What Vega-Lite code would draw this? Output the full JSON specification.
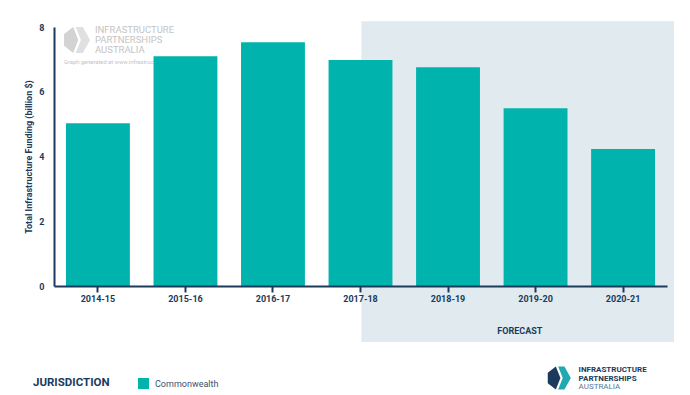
{
  "$schema": "https://vega.github.io/schema/vega-lite/v6.json",
  "width": 613,
  "height": 259,
  "autosize": {"type": "none"},
  "padding": {"left": 54, "top": 27, "right": 23, "bottom": 109},
  "background": "white",
  "config": {"view": {"stroke": null}, "font": "Roboto"},
  "datasets": {
    "bars": [
      {"year": "2014-15", "value": 5.03, "jurisdiction": "Commonwealth"},
      {"year": "2015-16", "value": 7.10, "jurisdiction": "Commonwealth"},
      {"year": "2016-17", "value": 7.53, "jurisdiction": "Commonwealth"},
      {"year": "2017-18", "value": 6.98, "jurisdiction": "Commonwealth"},
      {"year": "2018-19", "value": 6.76, "jurisdiction": "Commonwealth"},
      {"year": "2019-20", "value": 5.49, "jurisdiction": "Commonwealth"},
      {"year": "2020-21", "value": 4.23, "jurisdiction": "Commonwealth"}
    ],
    "forecast": [{"x0": 3.51, "x1": 7.08, "y0": -1.73, "y1": 8.18}],
    "watermark": [
      {"x": 0.468, "y": 7.90, "t": "INFRASTRUCTURE"},
      {"x": 0.468, "y": 7.60, "t": "PARTNERSHIPS"},
      {"x": 0.468, "y": 7.30, "t": "AUSTRALIA"}
    ],
    "watermark2": [
      {"x": 0.114, "y": 6.92, "t": "Graph generated at www.infrastructurepartnerships.com.au"}
    ],
    "forecastLabel": [{"x": 5.32, "y": -1.39, "t": "FORECAST"}],
    "logoBold": [
      {"x": 5.99, "y": -2.59, "t": "INFRASTRUCTURE"},
      {"x": 5.99, "y": -2.86, "t": "PARTNERSHIPS"}
    ],
    "logoLight": [{"x": 5.99, "y": -3.13, "t": "AUSTRALIA"}],
    "icons": [
      {"x": 0.263, "y": 7.60, "part": "wl", "c": "#d3d3d3", "sz": 676},
      {"x": 0.263, "y": 7.60, "part": "wr", "c": "#e0e0e0", "sz": 676},
      {"x": 5.77, "y": -2.84, "part": "bl", "c": "#1b3a5c", "sz": 530},
      {"x": 5.77, "y": -2.84, "part": "br", "c": "#22a8b0", "sz": 530}
    ]
  },
  "layer": [
    {
      "data": {"name": "forecast"},
      "mark": {"type": "rect", "color": "#e0eaef"},
      "encoding": {
        "x": {"field": "x0", "type": "quantitative", "scale": {"domain": [0, 7], "nice": false, "zero": false}, "axis": null},
        "x2": {"field": "x1"},
        "y": {"field": "y0", "type": "quantitative", "scale": {"domain": [0, 8], "nice": false, "zero": false}, "axis": null},
        "y2": {"field": "y1"}
      }
    },
    {
      "data": {"name": "watermark"},
      "mark": {"type": "text", "align": "left", "baseline": "middle", "color": "#c4c4c4", "font": "Roboto", "fontSize": 9.5},
      "encoding": {
        "x": {"field": "x", "type": "quantitative", "scale": {"domain": [0, 7], "nice": false, "zero": false}, "axis": null},
        "y": {"field": "y", "type": "quantitative", "scale": {"domain": [0, 8], "nice": false, "zero": false}, "axis": null},
        "text": {"field": "t"}
      }
    },
    {
      "data": {"name": "watermark2"},
      "mark": {"type": "text", "align": "left", "baseline": "middle", "color": "#c4c4c4", "font": "Roboto", "fontSize": 5.8},
      "encoding": {
        "x": {"field": "x", "type": "quantitative", "scale": {"domain": [0, 7], "nice": false, "zero": false}, "axis": null},
        "y": {"field": "y", "type": "quantitative", "scale": {"domain": [0, 8], "nice": false, "zero": false}, "axis": null},
        "text": {"field": "t"}
      }
    },
    {
      "data": {"name": "icons"},
      "mark": {"type": "point", "filled": true, "opacity": 1, "strokeWidth": 0},
      "encoding": {
        "x": {"field": "x", "type": "quantitative", "scale": {"domain": [0, 7], "nice": false, "zero": false}, "axis": null},
        "y": {"field": "y", "type": "quantitative", "scale": {"domain": [0, 8], "nice": false, "zero": false}, "axis": null},
        "shape": {"field": "part", "type": "nominal", "scale": {"domain": ["wl", "wr", "bl", "br"], "range": ["M-1,-0.45L-0.3,-1L0.1,0L-0.3,1L-1,0.45Z", "M-0.1,-1L0.45,-1L1,0L0.45,1L-0.1,1L0.3,0Z", "M-1,-0.45L-0.3,-1L0.1,0L-0.3,1L-1,0.45Z", "M-0.1,-1L0.45,-1L1,0L0.45,1L-0.1,1L0.3,0Z"]}, "legend": null},
        "color": {"field": "c", "type": "nominal", "scale": null},
        "size": {"field": "sz", "type": "quantitative", "scale": null}
      }
    },
    {
      "data": {"name": "bars"},
      "mark": {"type": "bar"},
      "encoding": {
        "x": {
          "field": "year", "type": "ordinal",
          "scale": {"paddingInner": 0.27, "paddingOuter": 0.137},
          "axis": {
            "title": null, "labelAngle": 0, "labelFont": "Roboto", "labelFontSize": 9, "labelFontWeight": "bold",
            "labelColor": "#1b3a5c", "domainColor": "#1b3a5c", "domainWidth": 2, "tickColor": "#1b3a5c",
            "tickWidth": 2, "tickSize": 6, "labelPadding": 2, "zindex": 1
          }
        },
        "y": {
          "field": "value", "type": "quantitative",
          "scale": {"domain": [0, 8], "nice": false},
          "axis": {
            "title": "Total Infrastructure Funding (billion $)", "titleFont": "Roboto", "titleFontSize": 9,
            "titleFontWeight": "bold", "titleColor": "#1b3a5c", "titlePadding": 5,
            "values": [0, 2, 4, 6, 8], "grid": false, "ticks": false,
            "labelFont": "Roboto", "labelFontSize": 9, "labelFontWeight": "bold", "labelColor": "#1b3a5c",
            "labelPadding": 10, "domainColor": "#1b3a5c", "domainWidth": 2, "zindex": 1
          }
        },
        "color": {
          "field": "jurisdiction", "type": "nominal",
          "scale": {"range": ["#00b4ad"]},
          "legend": {
            "title": "JURISDICTION", "orient": "none", "legendX": -21, "legendY": 350,
            "titleOrient": "left", "titleFont": "Roboto", "titleFontSize": 11.5, "titleFontWeight": "bold",
            "titleColor": "#1b3a5c", "titlePadding": 27, "symbolType": "square", "symbolSize": 120,
            "labelFont": "Roboto", "labelFontSize": 9, "labelColor": "#3a5270", "labelOffset": 5
          }
        }
      }
    },
    {
      "data": {"name": "forecastLabel"},
      "mark": {"type": "text", "align": "center", "baseline": "middle", "font": "Roboto", "fontSize": 9, "fontWeight": "bold", "color": "#1b3a5c"},
      "encoding": {
        "x": {"field": "x", "type": "quantitative", "scale": {"domain": [0, 7], "nice": false, "zero": false}, "axis": null},
        "y": {"field": "y", "type": "quantitative", "scale": {"domain": [0, 8], "nice": false, "zero": false}, "axis": null},
        "text": {"field": "t"}
      }
    },
    {
      "data": {"name": "logoBold"},
      "mark": {"type": "text", "align": "left", "baseline": "middle", "font": "Roboto", "fontSize": 8, "fontWeight": "bold", "color": "#1b3a5c"},
      "encoding": {
        "x": {"field": "x", "type": "quantitative", "scale": {"domain": [0, 7], "nice": false, "zero": false}, "axis": null},
        "y": {"field": "y", "type": "quantitative", "scale": {"domain": [0, 8], "nice": false, "zero": false}, "axis": null},
        "text": {"field": "t"}
      }
    },
    {
      "data": {"name": "logoLight"},
      "mark": {"type": "text", "align": "left", "baseline": "middle", "font": "Roboto", "fontSize": 8, "color": "#5a7896"},
      "encoding": {
        "x": {"field": "x", "type": "quantitative", "scale": {"domain": [0, 7], "nice": false, "zero": false}, "axis": null},
        "y": {"field": "y", "type": "quantitative", "scale": {"domain": [0, 8], "nice": false, "zero": false}, "axis": null},
        "text": {"field": "t"}
      }
    }
  ],
  "resolve": {"scale": {"x": "independent", "y": "independent", "color": "independent", "shape": "independent", "size": "independent"}}
}
